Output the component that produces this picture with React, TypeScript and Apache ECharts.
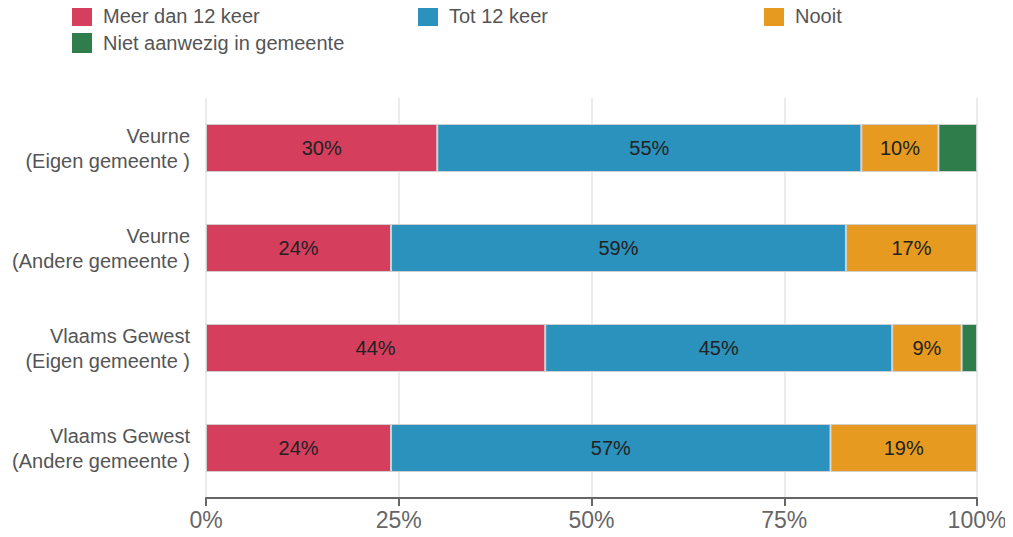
import React, { useEffect, useRef } from "react";
import * as echarts from "echarts";

const categories = [
  "Veurne\n(Eigen gemeente )",
  "Veurne\n(Andere gemeente )",
  "Vlaams Gewest\n(Eigen gemeente )",
  "Vlaams Gewest\n(Andere gemeente )",
];
const seriesNames = ["Meer dan 12 keer", "Tot 12 keer", "Nooit", "Niet aanwezig in gemeente"];
const meerDan12 = [30, 24, 44, 24];
const tot12 = [55, 59, 45, 57];
const nooit = [10, 17, 9, 19];
const nietAanwezig = [5, 0, 2, 0];
const colors = ["#d63e5e", "#2b91bd", "#e69a20", "#2e7d4a"];
const showLabel = [true, true, true, false];

export default function App() {
  const ref = useRef<HTMLDivElement>(null);
  useEffect(() => {
    if (!ref.current) return;
    const chart = echarts.init(ref.current, undefined, { renderer: "svg" });
    const values = [meerDan12, tot12, nooit, nietAanwezig];
    const legendStyle = {
      itemWidth: 20,
      itemHeight: 20,
      itemGap: 10,
      icon: "rect",
      itemStyle: { borderWidth: 0 },
      textStyle: { fontSize: 20, color: "#555", fontFamily: "Liberation Sans", padding: [0, 0, 0, 6] },
      orient: "horizontal" as const,
    };
    const legendPos = [
      { left: 72, top: 6 },
      { left: 418, top: 6 },
      { left: 764, top: 6 },
      { left: 72, top: 33 },
    ];
    chart.setOption({
      animation: false,
      textStyle: { fontFamily: "Liberation Sans" },
      legend: seriesNames.map((n, i) => ({
        ...legendStyle,
        ...legendPos[i],
        padding: 0,
        data: [n],
      })),
      grid: { left: 206, right: 36, top: 98, bottom: 39, containLabel: false },
      xAxis: {
        type: "value",
        min: 0,
        max: 100,
        interval: 25,
        axisLine: { show: true, lineStyle: { color: "#666", width: 2 } },
        axisTick: { show: true, length: 8, lineStyle: { color: "#666", width: 2 } },
        splitLine: { show: true, lineStyle: { color: "#ebebeb", width: 2 } },
        axisLabel: {
          formatter: "{value}%",
          fontSize: 23,
          color: "#666",
          margin: 10,
          fontFamily: "Liberation Sans",
        },
      },
      yAxis: {
        type: "category",
        inverse: true,
        data: categories,
        axisLine: { show: false },
        axisTick: { show: false },
        axisLabel: {
          fontSize: 20,
          color: "#555",
          lineHeight: 25,
          align: "right",
          margin: 16,
          fontFamily: "Liberation Sans",
        },
      },
      series: seriesNames.map((n, i) => ({
        name: n,
        type: "bar",
        stack: "total",
        barWidth: 48,
        data: values[i],
        itemStyle: { color: colors[i], borderColor: "#cfcfcf", borderWidth: 1 },
        label: {
          show: showLabel[i],
          position: "inside",
          formatter: (p: any) => (p.value > 0 ? p.value + "%" : ""),
          fontSize: 20,
          color: "#222",
          fontFamily: "Liberation Sans",
        },
      })),
    });
    return () => chart.dispose();
  }, []);
  return <div ref={ref} style={{ width: 1013, height: 537, margin: -8 }} />;
}
